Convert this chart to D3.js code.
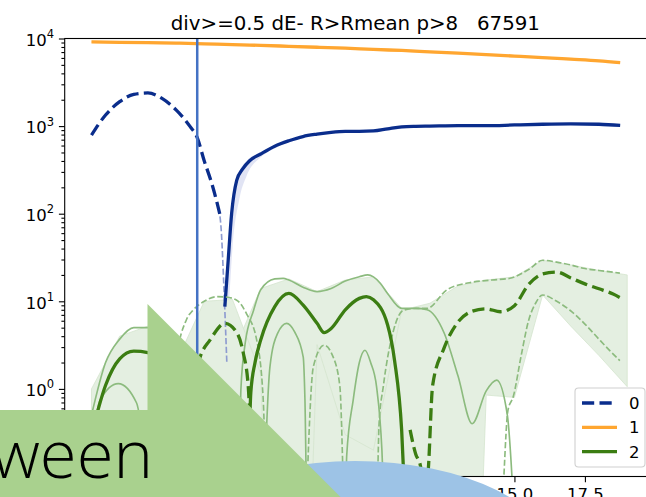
<!DOCTYPE html>
<html>
<head>
<meta charset="utf-8">
<script src="https://cdn.jsdelivr.net/npm/d3@7"></script>
<style>
body { margin: 0; background: #fff }
svg { display: block }
</style>
</head>
<body>
<svg id="svg" width="646" height="497"></svg>
<script>
// --- data ---
var title = "div>=0.5 dE- R>Rmean p>8   67591"
var seriesNames = ["0", "1", "2"]
var xTicks = [0, 2.5, 5, 7.5, 10, 12.5, 15, 17.5]
var yDecades = [-1, 0, 1, 2, 3, 4]
var bandX = [0, 1, 2, 3, 4, 5, 6, 7, 8, 9, 10, 11, 12, 13, 14, 15, 16, 17, 18, 19]
var markerX = 3.75

// series 0 (blue): [x, value]  (0 = dropped to zero, null = gap)
var s0Dash = [[0, 790], [0.5, 1340], [1, 1900], [1.5, 2300], [2, 2390], [2.5, 2070], [3, 1530],
	[3.5, 985], [3.75, 740], [4, 400], [4.25, 230], [4.5, 116], [4.58, 90]]
var s0DashThin = [[4.5, 116], [4.6, 66], [4.7, 13.5], [4.8, 2.0]]
var s0Solid = [[4.73, 8.7], [4.85, 30], [4.97, 100], [5.15, 240], [5.35, 320], [5.6, 400], [6, 480], [6.5, 590],
	[7, 680], [7.5, 760], [8, 810], [8.5, 850], [9, 870], [9.5, 870], [10, 880], [10.5, 930], [11, 980],
	[11.5, 995], [12, 1000], [13, 1010], [14, 1010], [15, 1030], [16, 1050], [17, 1060], [18, 1050], [18.75, 1020]]
var s0Band = [[4.8, 3, 12], [5, 40, 120], [5.25, 150, 300], [5.5, 270, 400], [6, 440, 500], [6.5, 560, 610],
	[7, 650, 700], [8, 790, 830], [10, 860, 900], [12, 980, 1020], [14, 990, 1030], [16, 1030, 1075],
	[18, 1030, 1075], [18.75, 1000, 1045]]

// series 1 (orange)
var s1 = [[0, 9150], [1, 9050], [2, 8950], [3, 8850], [4, 8700], [5, 8500], [6, 8350], [7, 8150], [8, 7950],
	[9, 7750], [10, 7500], [11, 7300], [12, 7050], [13, 6800], [14, 6550], [15, 6300], [16, 6050], [17, 5800],
	[18, 5550], [18.75, 5300]]

// series 2 (green)
var s2Solid = [[0, 0.3], [0.5, 1.1], [1, 2.2], [1.5, 2.7], [2, 2.6], [2.5, 2.0], [3, 1.2], [3.5, 0.5], [4, 0.15],
	[4.3, 0], [5.5, 0], [5.65, 0.9], [5.8, 2.0], [6, 3.6], [6.5, 8.7], [7, 12.3], [7.5, 9.1], [8, 5.6], [8.25, 4.4],
	[8.5, 4.9], [9, 8.0], [9.5, 10.8], [9.75, 11.3], [10, 10.4], [10.5, 5.4], [10.75, 2.1], [11, 0.34], [11.15, 0]]
var s2Dash = [[3.3, 0], [3.6, 1.1], [3.85, 2.3], [4.2, 3.6], [4.73, 5.6], [5.15, 4.4], [5.38, 2.6], [5.56, 1.06],
	[5.72, 0], [8, null], [11.3, 0.34], [11.5, 0.18], [11.65, 0.14], [11.8, 0.08], [11.92, 0.1], [12.1, 1.1],
	[12.5, 2.9], [13, 5.8], [13.5, 7.7], [14, 8.2], [14.5, 7.6], [15, 8.9], [15.5, 15.5], [16, 20.5], [16.5, 21.6],
	[17, 18.5], [17.5, 15.8], [18, 13.9], [18.5, 12.1], [18.75, 11]]
var s2SolidHi = [[0, 0.5], [0.5, 2.0], [1, 3.7], [1.5, 5.0], [2, 5.0], [2.5, 4.0], [3, 2.5], [3.5, 1.0], [4, 0.2],
	[4.3, 0], [5.2, 0], [5.3, 1.0], [5.45, 3.3], [5.75, 7.9], [6, 13.5], [6.5, 18], [6.8, 18.3], [7, 17.5],
	[7.5, 14.5], [8, 12.9], [8.5, 14], [9, 17], [9.5, 19.1], [9.8, 20], [10, 19], [10.25, 16], [10.5, 12.3],
	[11, 8.3], [11.5, 8.3], [11.9, 8.0], [12.5, 4.4], [13, 1.4], [13.5, 0.4], [14, 0.95], [14.37, 1.26],
	[14.75, 0.5], [15, 0]]
var s2SolidLo = [[0, 0.2], [0.3, 0.74], [0.95, 1.15], [1.6, 0.69], [1.9, 0.15], [2.1, 0], [6.1, 0], [6.2, 0.3],
	[6.33, 1.8], [6.6, 4.3], [6.92, 5.6], [7.2, 4.5], [7.51, 2.3], [7.57, 0.76], [7.65, 0], [9.0, 0], [9.05, 0.17],
	[9.28, 0.74], [9.5, 2.0], [9.7, 2.76], [9.9, 2.0], [10.11, 1.06], [10.3, 0.2], [10.4, 0]]
var s2DashHi = [[2.8, 0.3], [3, 2.0], [3.37, 6.2], [3.6, 7.9], [4, 10], [4.44, 11.3], [4.75, 11.2], [5.15, 10.3],
	[5.5, 7.2], [5.86, 3.6], [6.09, 0.76], [6.25, 0], [10.1, 0], [10.2, 0.4], [10.35, 1.07], [10.7, 4.5],
	[11.06, 7.9], [11.5, 8.3], [11.9, 8.3], [12.6, 13.5], [13.4, 16.3], [14.2, 17.5], [14.84, 18.3], [15.5, 23],
	[16, 29.4], [16.5, 28], [17, 26], [17.44, 23.8], [18, 22.5], [18.74, 21]]
var s2DashLo = [[7.6, 0], [7.87, 1.8], [8.25, 3.15], [8.55, 2.4], [8.81, 1.06], [9.0, 0], [14.5, 0], [14.77, 0.57],
	[14.96, 0.82], [15.25, 2.5], [15.5, 6], [15.75, 9.5], [16, 11.8], [16.5, 10], [16.97, 7.9], [17.5, 5.5],
	[18.03, 3.6], [18.4, 2.7], [18.74, 2.1]]
// fill bands at integer x
var s2SolidBandHi = [1.0, 4.0, 5.2, 3.0, 0.4, 2.5, 14, 18, 12.9, 17.5, 19, 8.3, 7.5, 1.4, 0, 0, 0, 0, 0, 0]
var s2SolidBandLo = [0, 0, 0, 0, 0, 0, 0, 0, 0, 0, 0, 0, 0, 0, 0, 0, 0, 0, 0, 0]
var s2DashBandHi = [0, 0, 0.5, 2.0, 10, 10.5, 1.5, 0, 3.2, 0.3, 0.2, 7.9, 9.5, 15, 17.5, 19, 29.4, 26, 22.5, 20]
var s2DashBandLo = [0, 0, 0, 0, 0, 0, 0, 0, 0, 0, 0, 0, 0, 0, 0.85, 0.8, 11.8, 5.2, 2.4, 1.06]

// --- drawing ---
var svg = d3.select("#svg")
var plot = {left: 64.7, right: 654, top: 38.5, bottom: 476.5}
var FONT = "DejaVu Sans, sans-serif"
var navy = "#0a2d8c", orange = "#ffa630", green = "#3b7d12"
var greenThin = "#8cbb7e", greenFill = "#e4efe1"

var x = d3.scaleLinear().domain([-0.95, 19.95]).range([plot.left, plot.right])
var y = d3.scaleLog().domain([0.1, 1e4]).range([plot.bottom, plot.top])
var FLOOR = 0.03

function yv(v) { return y(v === 0 ? FLOOR : v) }

var line = d3.line()
	.defined(function (d) { return d[1] !== null })
	.x(function (d) { return x(d[0]) })
	.y(function (d) { return yv(d[1]) })
	.curve(d3.curveMonotoneX)

var band = d3.area()
	.x(function (d) { return x(d[0]) })
	.y0(function (d) { return y(Math.max(d[1], 1e-9)) })
	.y1(function (d) { return y(Math.max(d[2], 1e-9)) })

svg.append("defs").append("clipPath").attr("id", "clip")
	.append("rect")
	.attr("x", plot.left).attr("y", plot.top)
	.attr("width", plot.right - plot.left).attr("height", plot.bottom - plot.top)

var g = svg.append("g").attr("clip-path", "url(#clip)")

function bandRows(lo, hi) {
	return bandX.map(function (xv, i) { return [xv, lo[i], hi[i]] })
}

// fills
g.append("path").datum(s0Band).attr("d", band.curve(d3.curveMonotoneX))
	.style("fill", "#d9ddf1").style("opacity", 0.8)
g.append("path").datum(s1.map(function (d) { return [d[0], d[1] * 0.97, d[1] * 1.03] }))
	.attr("d", band.curve(d3.curveMonotoneX))
	.style("fill", "#ffe2bb").style("opacity", 0.8)
band.curve(d3.curveLinear)
;[bandRows(s2SolidBandLo, s2SolidBandHi), bandRows(s2DashBandLo, s2DashBandHi)].forEach(function (rows) {
	g.append("path").datum(rows).attr("d", band)
		.style("fill", greenFill).style("stroke", "#d4e5ce").style("stroke-width", 0.8)
})

function draw(data, color, width, dash, opacity) {
	g.append("path").datum(data).attr("d", line)
		.style("fill", "none")
		.style("stroke", color)
		.style("stroke-width", width)
		.style("stroke-dasharray", dash || null)
		.style("opacity", opacity || 1)
}

var thickDash = "12.2,5.3", thinDash = "6.1,2.6"

// series 0
draw(s0DashThin, "#8d9bd0", 1.65, thinDash)
draw(s0Dash, navy, 3.3, thickDash)
draw(s0Solid, navy, 3.3)
// series 1
draw(s1, orange, 3.3)
// series 2
draw(s2SolidHi, greenThin, 1.65)
draw(s2SolidLo, greenThin, 1.65)
draw(s2DashHi, greenThin, 1.65, thinDash)
draw(s2DashLo, greenThin, 1.65, thinDash)
draw(s2Solid, green, 3.3)
draw(s2Dash, green, 3.3, thickDash)

// marker line
svg.append("line")
	.attr("x1", x(markerX)).attr("x2", x(markerX))
	.attr("y1", plot.top).attr("y2", plot.bottom)
	.style("stroke", "#4472c4").style("stroke-width", 2.5)

// axes
var xAxis = d3.axisBottom(x).tickValues(xTicks).tickFormat(d3.format(".1f"))
	.tickSize(5.8).tickPadding(5.8).tickSizeOuter(0)
var gx = svg.append("g").attr("transform", "translate(0," + plot.bottom + ")").call(xAxis)
gx.select(".domain").remove()
gx.selectAll("text").style("font-family", FONT).style("font-size", "16.5px").style("fill", "#000")

var majors = yDecades.map(function (d) { return Math.pow(10, d) })
var minors = []
yDecades.slice(0, -1).forEach(function (d) {
	for (var k = 2; k <= 9; k++) minors.push(k * Math.pow(10, d))
})
var gy = svg.append("g").attr("transform", "translate(" + plot.left + ",0)")
	.call(d3.axisLeft(y).tickValues(majors).tickFormat("").tickSize(5.8).tickSizeOuter(0))
gy.select(".domain").remove()
var gy2 = svg.append("g").attr("transform", "translate(" + plot.left + ",0)")
	.call(d3.axisLeft(y).tickValues(minors).tickFormat("").tickSize(3.3).tickSizeOuter(0))
gy2.select(".domain").remove()
svg.selectAll(".tick line").style("stroke", "#000").style("stroke-width", 1.1)

yDecades.forEach(function (d) {
	var t = svg.append("text")
		.attr("x", 54).attr("y", y(Math.pow(10, d)) + 7.3)
		.attr("text-anchor", "end")
		.style("font-family", FONT).style("font-size", "16.5px").style("fill", "#000")
		.text("10")
	t.append("tspan").attr("dy", -7.8).style("font-size", "11.5px")
		.text(d < 0 ? "\u2212" + (-d) : String(d))
})

// spines
svg.append("rect")
	.attr("x", plot.left).attr("y", plot.top)
	.attr("width", plot.right - plot.left).attr("height", plot.bottom - plot.top)
	.style("fill", "none").style("stroke", "#000").style("stroke-width", 1.1)

// title
svg.append("text")
	.attr("x", (plot.left + plot.right) / 2 - 4).attr("y", 30)
	.attr("text-anchor", "middle")
	.style("font-family", FONT).style("font-size", "19.8px").style("fill", "#000")
	.style("white-space", "pre")
	.text(title)

// legend
var leg = svg.append("g")
leg.append("rect")
	.attr("x", 575).attr("y", 388).attr("width", 70).attr("height", 79).attr("rx", 3.5)
	.style("fill", "#fff").style("fill-opacity", 0.8)
	.style("stroke", "#d0d0d0").style("stroke-width", 1.1)
var legStyles = [[navy, thickDash], [orange, null], [green, null]]
seriesNames.forEach(function (name, i) {
	var ly = 403 + i * 24.3
	leg.append("line")
		.attr("x1", 582).attr("x2", 617).attr("y1", ly).attr("y2", ly)
		.style("stroke", legStyles[i][0]).style("stroke-width", 3.3)
		.style("stroke-dasharray", legStyles[i][1])
	leg.append("text")
		.attr("x", 629).attr("y", ly + 6)
		.style("font-family", FONT).style("font-size", "16.5px").style("fill", "#000")
		.text(name)
})

// slide overlays
svg.append("ellipse")
	.attr("cx", 355).attr("cy", 560).attr("rx", 200).attr("ry", 99)
	.style("fill", "#9dc3e6")
svg.append("polygon")
	.attr("points", "0,410 147.5,410 147.5,304 345,501.5 0,501.5")
	.style("fill", "#a9d18e")
svg.append("text")
	.attr("x", 153).attr("y", 478)
	.attr("text-anchor", "end")
	.style("font-family", "Open Sans, sans-serif").style("font-weight", 300)
	.style("font-size", "67px").style("fill", "#000")
	.text("ween")
</script>
</body>
</html>
